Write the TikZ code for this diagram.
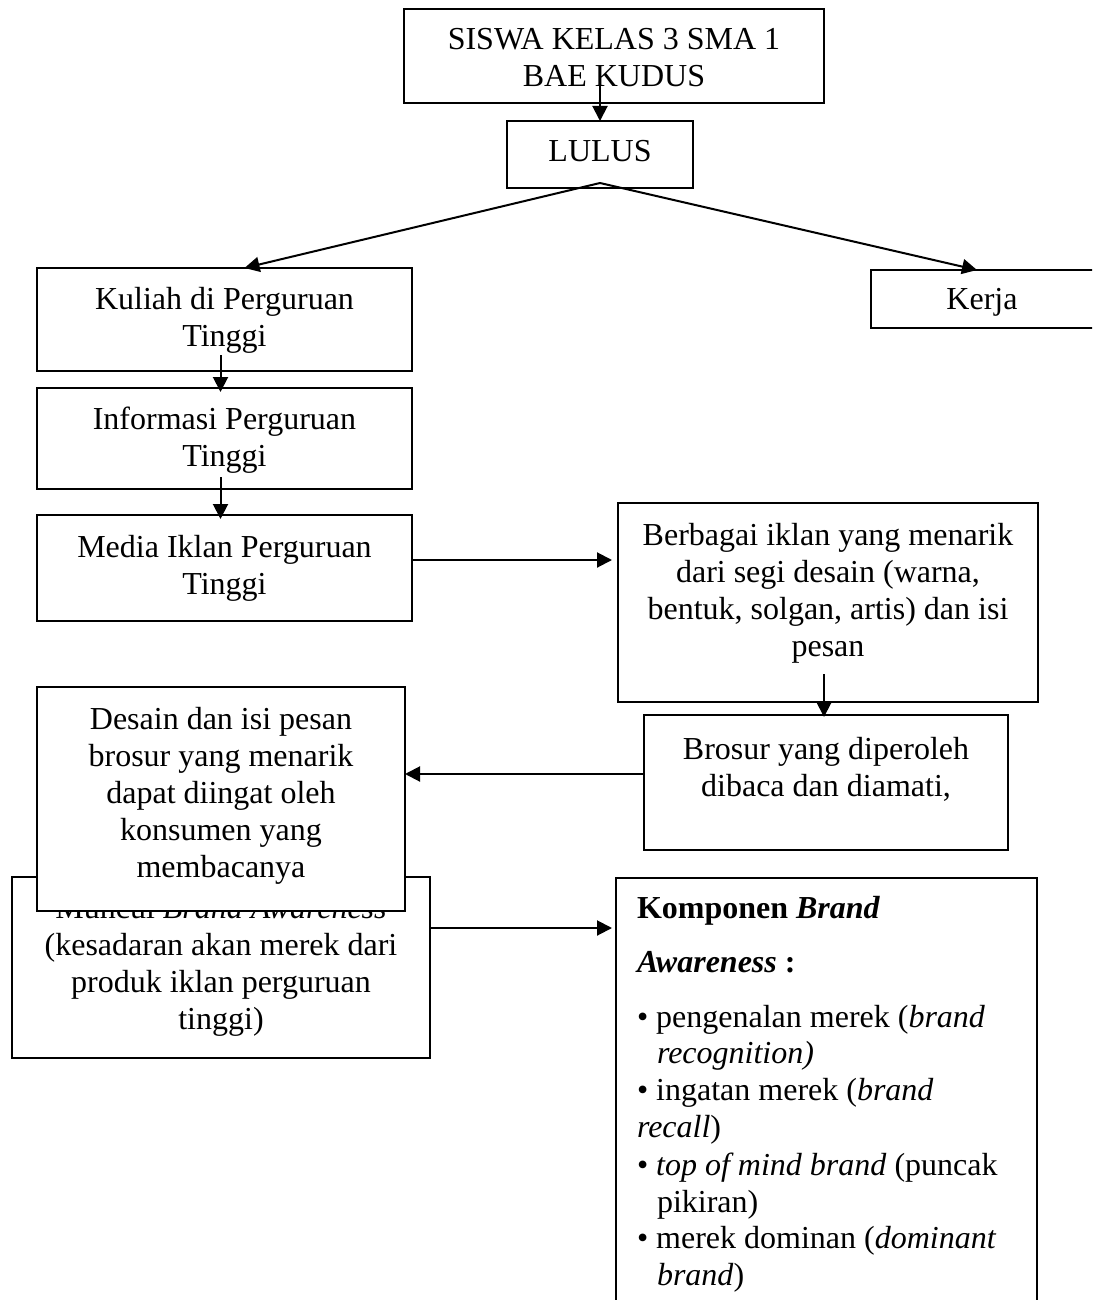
\documentclass[tikz,border=0pt]{standalone}
\usepackage{fontspec}
\setmainfont{Liberation Serif}
\usetikzlibrary{arrows.meta,calc}
\begin{document}
\begin{tikzpicture}[x=0.5pt,y=-0.5pt,
  every node/.style={font=\fontsize{16}{18.5}\selectfont, inner sep=0pt, outer sep=0pt},
  bx/.style={draw, line width=1pt, fill=white, rectangle},
  txt/.style={align=center, anchor=north},
  arr/.style={line width=1pt, -{Triangle[length=7.5pt,width=7.5pt]}},
  ln/.style={anchor=base west}]
\useasboundingbox (0,0) rectangle (1092,1300);
\fill[white] (0,0) rectangle (1092,1300);
\clip (0,0) rectangle (1092,1300);

% top
\node[bx, minimum width=210pt, minimum height=47pt] (top) at (614,56) {};
\node[txt] (topt) at ([yshift=-9.5pt]top.north) {SISWA KELAS 3 SMA 1\\BAE KUDUS};
% lulus
\node[bx, minimum width=93pt, minimum height=33.5pt] (lul) at (600,154.5) {};
\node[txt] (lult) at ([yshift=-9.5pt]lul.north) {LULUS};
% kuliah
\node[bx, minimum width=187.5pt, minimum height=51.5pt] (kul) at (224.5,319.5) {};
\node[txt] (kult) at ([yshift=-9.5pt]kul.north) {Kuliah di Perguruan\\Tinggi};
% kerja
\node[bx, minimum width=114.5pt, minimum height=29pt] (ker) at (985.5,299) {};
\node[txt] (kert) at ([xshift=-1.75pt,yshift=-9pt]ker.north) {Kerja};
% informasi
\node[bx, minimum width=187.5pt, minimum height=50.5pt] (inf) at (224.5,438.5) {};
\node[txt] (inft) at ([yshift=-9.5pt]inf.north) {Informasi Perguruan\\Tinggi};
% media
\node[bx, minimum width=187.5pt, minimum height=53pt] (med) at (224.5,568) {};
\node[txt] (medt) at ([yshift=-10pt]med.north) {Media Iklan Perguruan\\Tinggi};
% berbagai
\node[bx, minimum width=210pt, minimum height=99.5pt] (ber) at (828,602.5) {};
\node[txt] (bert) at ([yshift=-10pt]ber.north) {Berbagai iklan yang menarik\\dari segi desain (warna,\\bentuk, solgan, artis) dan isi\\pesan};
% brosur
\node[bx, minimum width=182pt, minimum height=67.5pt] (bro) at (826,782.5) {};
\node[txt] (brot) at ([yshift=-11pt]bro.north) {Brosur yang diperoleh\\dibaca dan diamati,};
% muncul (behind desain)
\node[bx, minimum width=209pt, minimum height=90.5pt] (mun) at (221,967.5) {};
\node[txt] (munt) at ([yshift=-9.5pt]mun.north) {Muncul \textit{Brand Awareness}\\(kesadaran akan merek dari\\produk iklan perguruan\\tinggi)};
% desain
\node[bx, minimum width=184pt, minimum height=112pt] (des) at (221,799) {};
\node[txt] (dest) at ([yshift=-10pt]des.north) {Desain dan isi pesan\\brosur yang menarik\\dapat diingat oleh\\konsumen yang\\membacanya};
% komponen
\node[bx, minimum width=210.5pt, minimum height=221pt] (kom) at (826.5,1099) {};
\node[ln] (k1) at (637,918) {\textbf{Komponen \textit{Brand}}};
\node[ln] (k2) at (637,972) {\textbf{\textit{Awareness} :}};
\node[ln] (k3) at (637,1027) {• pengenalan merek (\textit{brand}};
\node[ln] (k4) at (657,1063) {\textit{recognition)}};
\node[ln] (k5) at (637,1100) {• ingatan merek (\textit{brand}};
\node[ln] (k6) at (637,1137) {\textit{recall})};
\node[ln] (k7) at (637,1175) {• \textit{top of mind brand} (puncak};
\node[ln] (k8) at (657,1212) {pikiran)};
\node[ln] (k9) at (637,1248) {• merek dominan (\textit{dominant}};
\node[ln] (k10) at (657,1285) {\textit{brand})};

% connectors
\draw[arr] ([yshift=10pt]top.south -| lul.north) -- (lul.north);
\draw[arr] ([yshift=2.5pt]lul.south) -- ([xshift=10pt]kul.north);
\draw[arr] ([yshift=2.5pt]lul.south) -- ([xshift=-4.25pt]ker.north);
\draw[arr] ([xshift=-2pt,yshift=8pt]kul.south) -- ([xshift=-2pt,yshift=-2pt]inf.north);
\draw[arr] ([xshift=-2pt,yshift=6pt]inf.south) -- ([xshift=-2pt,yshift=-2pt]med.north);
\coordinate (m1) at ([yshift=4pt]med.east);
\draw[arr, shorten >=3pt] (m1) -- (m1 -| ber.west);
\coordinate (c1) at ([xshift=-2pt,yshift=14pt]ber.south);
\draw[arr, shorten >=-1pt] (c1) -- (c1 |- bro.north);
\coordinate (b1) at ([yshift=4.25pt]bro.west);
\draw[arr] (b1) -- (b1 -| des.east);
\coordinate (u1) at ([yshift=19.75pt]mun.east);
\draw[arr, shorten >=2pt] (u1) -- (u1 -| kom.west);
\end{tikzpicture}
\end{document}
